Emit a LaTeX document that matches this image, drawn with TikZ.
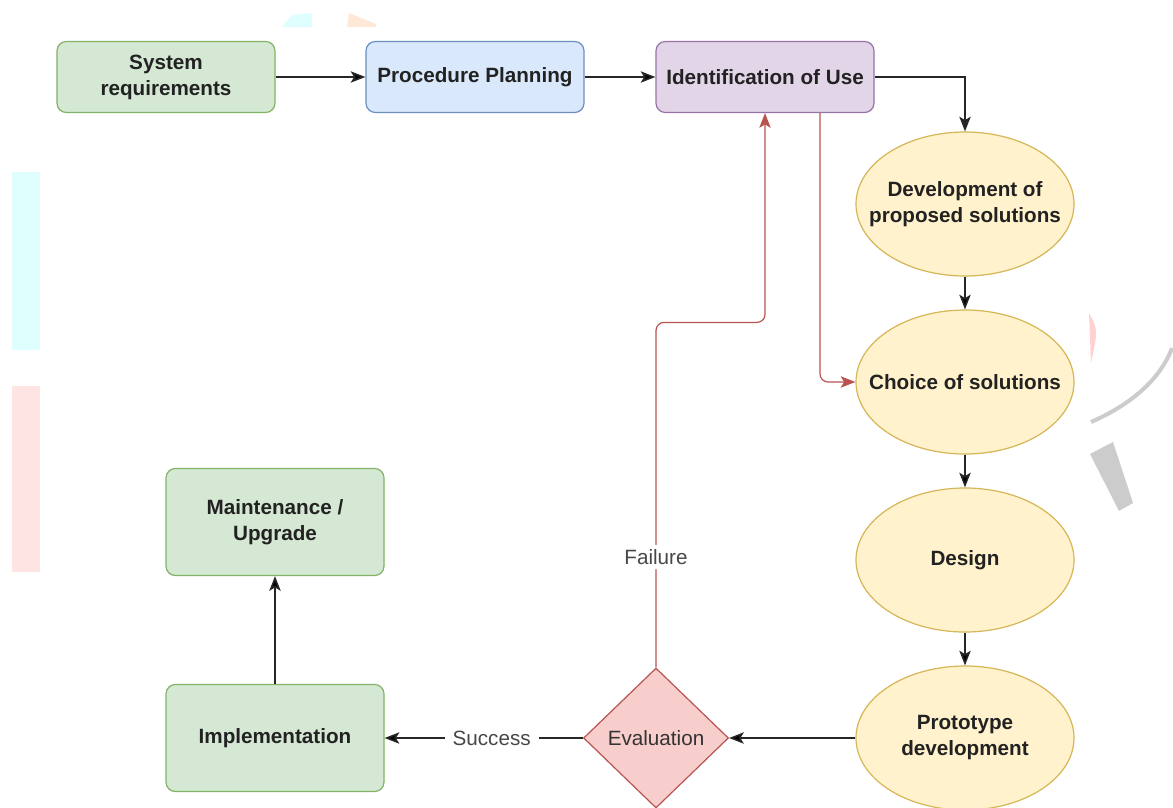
\documentclass[tikz,border=0pt]{standalone}
\usepackage{fontspec}
\setmainfont{Liberation Sans}
\usetikzlibrary{arrows.meta,positioning,shapes.geometric}
\tikzset{>/.tip={Stealth[length=11pt,width=8.5pt,inset=2.5pt]}}
\definecolor{grnF}{HTML}{D5E8D4}\definecolor{grnD}{HTML}{82B366}
\definecolor{bluF}{HTML}{DAE8FC}\definecolor{bluD}{HTML}{6C8EBF}
\definecolor{purF}{HTML}{E1D5E7}\definecolor{purD}{HTML}{9673A6}
\definecolor{yelF}{HTML}{FFF2CC}\definecolor{yelD}{HTML}{D6B656}
\definecolor{redF}{HTML}{F8CECC}\definecolor{redD}{HTML}{B85450}
\definecolor{txt}{HTML}{222222}
\definecolor{wmC}{HTML}{DFFFFF}\definecolor{wmR}{HTML}{FFE4E4}\definecolor{wmO}{HTML}{FFE8D8}
\newcommand\bigfont{\fontsize{15.5}{19.5}\selectfont}

\begin{document}
\begin{tikzpicture}[x=0.75pt,y=-0.75pt,on grid,node distance=133.5pt,font=\bigfont\bfseries,
    box/.style={draw,rounded corners=7pt,line width=0.9pt,align=center,text=txt,
      minimum width=163.5pt,minimum height=53.25pt},
    tall/.style={box,minimum height=80.25pt},
    sol/.style={ellipse,draw=yelD,fill=yelF,line width=0.9pt,inner sep=0pt,
      minimum width=163.5pt,minimum height=108pt},
    soltxt/.style={align=center,text=txt},
    dec/.style={diamond,draw=redD,fill=redF,line width=0.9pt,inner sep=0pt,
      minimum width=108.75pt,minimum height=105pt},
    lbl/.style={fill=white,font=\bigfont\mdseries,text=black!72,inner xsep=6pt},
    flow/.style={->,line width=1.2pt,draw=black!85},
    fail/.style={->,line width=0.9pt,draw=redD,rounded corners=6pt}]
        \useasboundingbox[fill=white] (-166,-77) rectangle (1007,730);
        \begin{scope}[shift={(-166,-77)}]
          \fill[wmC] (12,172) rectangle (40,350);
          \fill[wmR] (12,386) rectangle (40,572);
          \fill[wmC] (282,27) -- (292,15) -- (312,13) -- (312,27) -- cycle;
          \fill[wmO] (347,27) -- (349,13) -- (376,24) -- (376,27) -- cycle;
          \fill[red!18] (1089,313) .. controls (1098,330) .. (1091,363) -- cycle;
          \draw[black!20,line width=3pt] (1091,422) .. controls (1130,405) and (1160,380) .. (1172,348);
          \fill[black!20] (1090,454) -- (1113,442) -- (1133,503) -- (1119,511) -- cycle;
        \end{scope}
        \node(sys)[box,fill=grnF,draw=grnD]{System\\requirements};
        \node(plan)[box,fill=bluF,draw=bluD,right=231.75pt of sys]{Procedure Planning};
        \node(use)[box,fill=purF,draw=purD,right=217.5pt of plan]{Identification of Use};
        \node(dev)[sol,below right=95.25pt and 150pt of use,
          label={[soltxt]center:{Development of\\proposed solutions}}]{};
        \node(choice)[sol,below=of dev,label={[soltxt]center:Choice of solutions}]{};
        \node(design)[sol,below=of choice,label={[soltxt]center:Design}]{};
        \node(proto)[sol,below=of design,
          label={[soltxt]center:{Prototype\\development}}]{};
        \node(eval)[dec,left=231.75pt of proto,
          label={[font=\bigfont\mdseries,text=black!80]center:Evaluation}]{};
        \node(impl)[tall,fill=grnF,draw=grnD,left=285.75pt of eval]{Implementation};
        \node(maint)[tall,fill=grnF,draw=grnD,above=162pt of impl]{Maintenance /\\Upgrade};
        \draw[flow]
        (sys) edge (plan)
        (plan) edge (use)
        (dev) edge (choice)
        (choice) edge (design)
        (design) edge (proto)
        (proto) edge (eval)
        (eval) edge node[lbl,pos=0.46]{Success} (impl)
        (impl) edge (maint);
        \draw[flow] (use.east) -| (dev.north);
        \draw[fail] ([xshift=41.25pt]use.south) |- (choice.west);
        \draw[fail] (eval.north) -- node[lbl,pos=0.32]{Failure} ++(0,-345) -| (use.south);
      \end{tikzpicture}
\end{document}
